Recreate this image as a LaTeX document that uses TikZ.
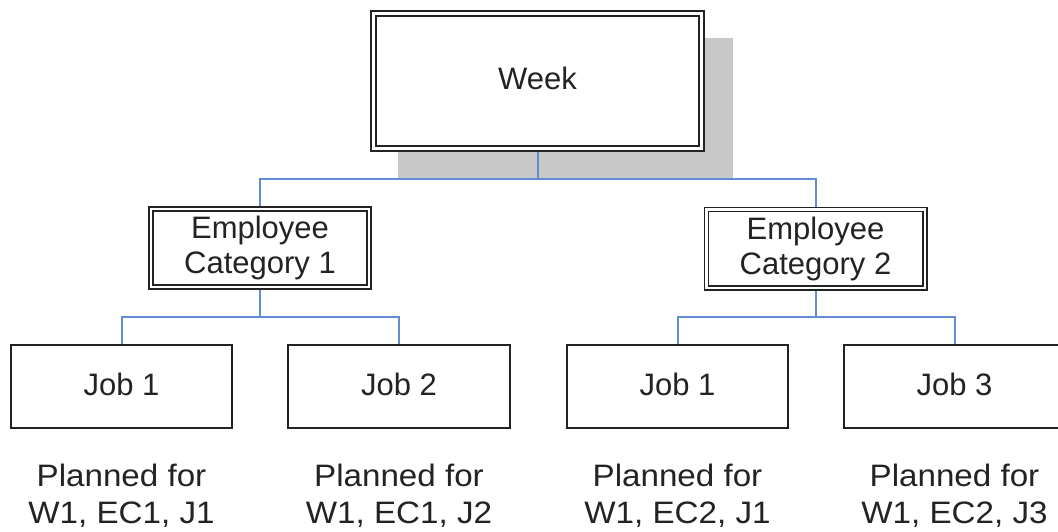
\documentclass[tikz,border=0pt]{standalone}
\usepackage{fontspec}
\setmainfont{Liberation Sans}
\newfontfamily\notefont[FakeStretch=1.07]{Liberation Sans}
\usetikzlibrary{calc,backgrounds}
\definecolor{linkblue}{RGB}{98,140,212}
\definecolor{shadowgray}{RGB}{200,200,200}
\definecolor{boxline}{RGB}{35,35,35}
\definecolor{txt}{RGB}{35,35,35}
\tikzset{
  basetext/.style={text=txt, font=\fontsize{31}{37}\selectfont, inner sep=0pt},
  weekbox/.style={basetext, rectangle, draw=boxline, line width=2pt, double=white,
    double distance=3pt, outer sep=3.5pt, minimum width=328pt, minimum height=135pt,
    text height=22pt, text depth=5pt, fill=white},
  catbox/.style={basetext, rectangle, draw=boxline, line width=1.6pt, double=white,
    double distance=2.4pt, outer sep=2.8pt, minimum width=218.4pt, minimum height=78.4pt,
    align=center, font=\fontsize{31}{35}\selectfont},
  jobbox/.style={basetext, rectangle, draw=boxline, line width=1.8pt, outer sep=0.9pt,
    minimum width=221.5pt, minimum height=83.5pt, text height=22pt, text depth=5pt},
  note/.style={basetext, align=center, anchor=north, font=\notefont\fontsize{31}{37}\selectfont},
  link/.style={draw=linkblue, line width=2pt},
  orth/.style={to path={(\tikztostart) -- ($(\tikztostart)!0.5!(\tikztostart|-\tikztotarget)$) -| (\tikztotarget)}}
}
\begin{document}
\begin{tikzpicture}[x=1pt,y=1pt]
  \clip (0,0) rectangle (1058,-531);

  \node[weekbox] (week) at (537.5,-81) {Week};
  \node[catbox] (ec1) at (260,-248) {Employee\\Category 1};
  \node[catbox] (ec2) at (815.5,-248.5) {Employee\\Category 2};

  \node[jobbox] (j1) at (121.5,-386.5) {Job 1};
  \node[jobbox] (j2) at (399,-386.5) {Job 2};
  \node[jobbox] (j3) at (677.5,-386.5) {Job 1};
  \node[jobbox] (j4) at (954.5,-386.5) {Job 3};

  \node[note] (n1) at ($(j1.south)+(0,-35)$) {Planned for\\W1, EC1, J1};
  \node[note] (n2) at ($(j2.south)+(0,-35)$) {Planned for\\W1, EC1, J2};
  \node[note] (n3) at ($(j3.south)+(0,-35)$) {Planned for\\W1, EC2, J1};
  \node[note] (n4) at ($(j4.south)+(0,-35)$) {Planned for\\W1, EC2, J3};

  \begin{scope}[on background layer]
    \fill[white] (0,0) rectangle (1058,-531);
    \fill[shadowgray] ($(week.south west)+(28,-28)$) rectangle ($(week.north east)+(28,-28)$);
  \end{scope}

  \draw[link] (week.south) to[orth] (ec1.north);
  \draw[link] (week.south) to[orth] (ec2.north);
  \draw[link] (ec1.south) to[orth] (j1.north);
  \draw[link] (ec1.south) to[orth] (j2.north);
  \draw[link] (ec2.south) to[orth] (j3.north);
  \draw[link] (ec2.south) to[orth] (j4.north);
\end{tikzpicture}
\end{document}
